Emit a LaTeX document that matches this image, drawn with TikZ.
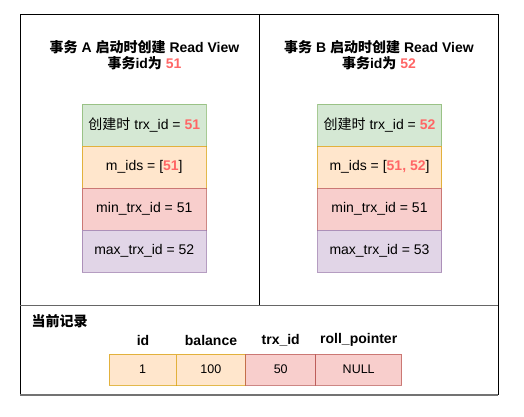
\documentclass[tikz,border=0pt]{standalone}
\usepackage{fontspec}
\setmainfont{Liberation Sans}
\newfontfamily\cjk{Noto Sans CJK SC}
\usetikzlibrary{positioning}
\definecolor{gfill}{HTML}{D5E8D4}\definecolor{gdraw}{HTML}{82B366}
\definecolor{ofill}{HTML}{FFE6CC}\definecolor{odraw}{HTML}{D79B00}
\definecolor{rfill}{HTML}{F8CECC}\definecolor{rdraw}{HTML}{B85450}
\definecolor{pfill}{HTML}{E1D5E7}\definecolor{pdraw}{HTML}{9673A6}
\definecolor{hl}{HTML}{FF6666}
\newcommand{\hlt}[1]{\textcolor{hl}{\textbf{#1}}}
\begin{document}
\begin{tikzpicture}[x=1pt,y=-1pt,
  cell/.style={draw,draw opacity=0.7,line width=0.8pt,minimum width=124pt,minimum height=42pt,inner sep=0pt,font=\fontsize{14}{16}\selectfont},
  gcell/.style={cell,fill=gfill,draw=gdraw},
  ocell/.style={cell,fill=ofill,draw=odraw},
  rcell/.style={cell,fill=rfill,draw=rdraw},
  pcell/.style={cell,fill=pfill,draw=pdraw},
  tcell/.style={draw,draw opacity=0.7,line width=0.8pt,minimum height=30.7pt,inner sep=0pt,font=\fontsize{12.5}{14}\selectfont},
  title/.style={align=center,font=\fontsize{14}{16.5}\selectfont\bfseries},
  hdr/.style={font=\fontsize{14}{16}\selectfont\bfseries}]
\useasboundingbox (0,0) rectangle (524,417);
% frames
\draw[line width=0.8pt] (20,14) rectangle (498,305);
\draw[line width=0.8pt] (259.5,14) -- (259.5,305);
\draw[line width=0.8pt] (20,305) -- (20,395);
\draw[line width=0.8pt] (498,305) -- (498,395);
\draw[line width=1.2pt,black!55] (20,395) -- (498,395);
\draw[line width=1pt,black!60] (20,305) -- (498,305);
% titles
\node[title] (ta) at (144.5,55) {{\cjk 事务} A {\cjk 启动时创建} Read View\\{\cjk 事务}id{\cjk 为} \textcolor{hl}{51}};
\node[title] (tb) at (379,55) {{\cjk 事务} B {\cjk 启动时创建} Read View\\{\cjk 事务}id{\cjk 为} \textcolor{hl}{52}};
% view A
\node[gcell] (a1) at (144.3,125.3) {{\cjk 创建时} trx\_id = \hlt{51}};
\node[ocell] (a2) at (144.3,167.3) {m\_ids = [\hlt{51}]};
\node[rcell] (a3) at (144.3,209.3) {min\_trx\_id = 51};
\node[pcell] (a4) at (144.3,251.3) {max\_trx\_id = 52};
% view B
\node[gcell] (b1) at (379.5,125.3) {{\cjk 创建时} trx\_id = \hlt{52}};
\node[ocell] (b2) at (379.5,167.3) {m\_ids = [\hlt{51, 52}]};
\node[rcell] (b3) at (379.5,209.3) {min\_trx\_id = 51};
\node[pcell] (b4) at (379.5,251.3) {max\_trx\_id = 53};
% current record
\node[anchor=west,inner sep=0pt,font=\fontsize{14}{16}\selectfont\bfseries\cjk] (cur) at (31.5,321) {当前记录};
\node[tcell,fill=ofill,draw=odraw,minimum width=67pt] (c1) at (142.5,369.6) {1};
\node[tcell,fill=ofill,draw=odraw,minimum width=69.7pt] (c2) at (210.8,369.6) {100};
\node[tcell,fill=rfill,draw=rdraw,minimum width=70pt] (c3) at (280.7,369.6) {50};
\node[tcell,fill=rfill,draw=rdraw,minimum width=86pt] (c4) at (358.7,369.6) {NULL};
\node[hdr] (h1) at (143,340) {id};
\node[hdr] (h2) at (211,340) {balance};
\node[hdr] (h3) at (280.7,340) {trx\_id};
\node[hdr] (h4) at (358.7,340) {roll\_pointer};
\end{tikzpicture}
\end{document}
